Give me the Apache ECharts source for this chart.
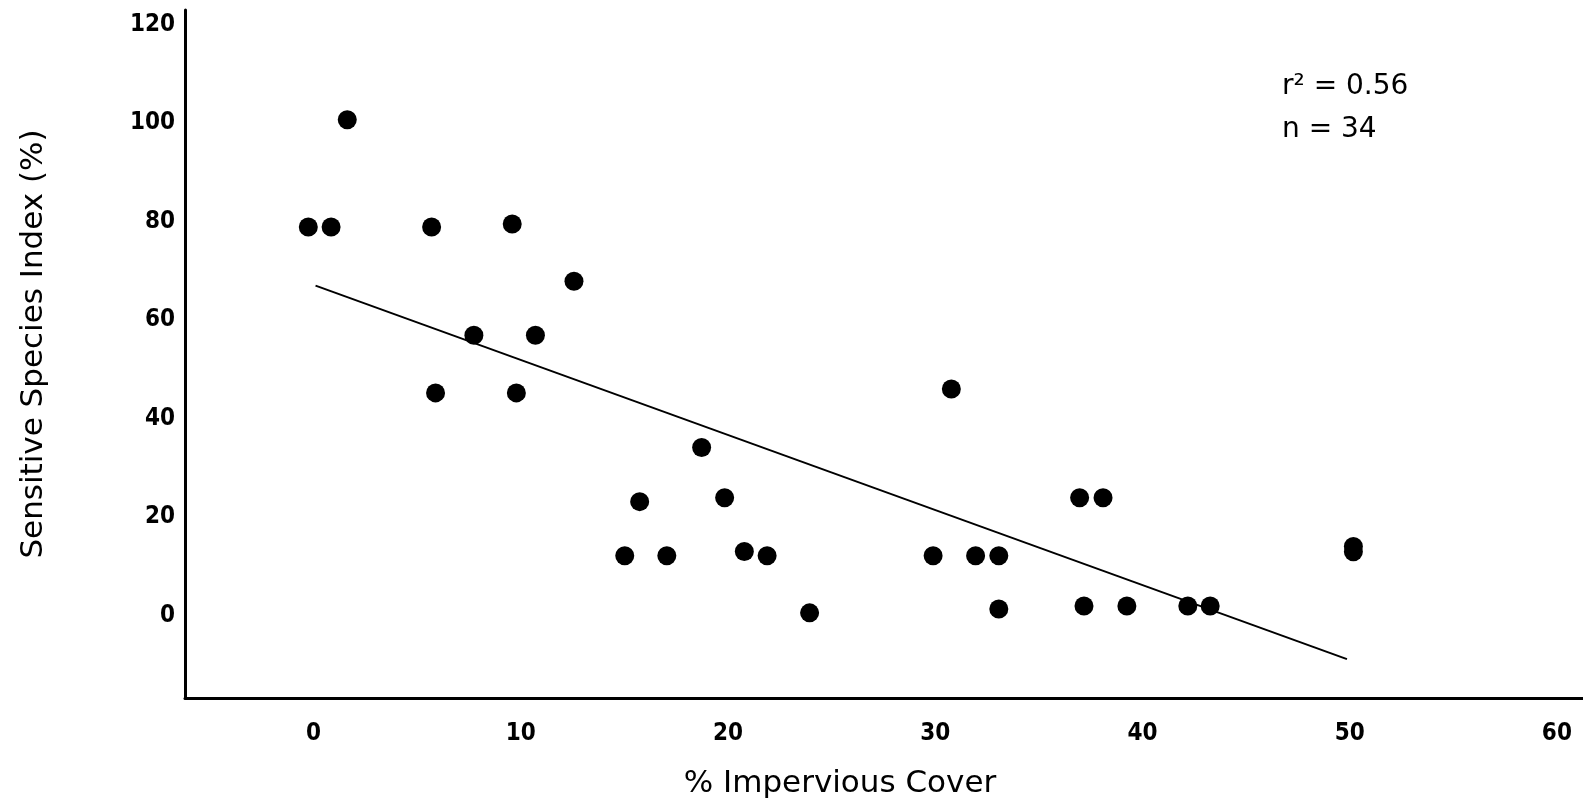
<!DOCTYPE html>
<html>
<head>
<meta charset="utf-8">
<title>Sensitive Species Index vs Impervious Cover</title>
<script src="https://cdn.jsdelivr.net/npm/echarts@6/dist/echarts.min.js"></script>
<style>
    html, body { margin: 0; padding: 0; background: #fff; }
    #scatterChart { width: 1583px; height: 806px; }
</style>
</head>
<body>
<div id="scatterChart"></div>
<script>
// points
var coverX = [-0.25, 0.85, 1.63, 5.70, 5.89, 7.74, 9.59, 9.79, 10.71, 12.57,
    15.02, 15.74, 17.05, 18.73, 19.84, 20.79, 21.89, 23.94, 29.90, 30.78,
    31.95, 33.07, 33.07, 36.97, 38.10, 37.18, 39.25, 42.19, 43.27, 50.18, 50.18];
var indexY = [78.9, 78.9, 100.7, 78.9, 45.2, 56.9, 79.5, 45.2, 56.9, 67.9,
    12.1, 23.1, 12.1, 34.1, 23.9, 12.95, 12.1, 0.5, 12.1, 46.0,
    12.1, 12.1, 1.3, 23.9, 23.9, 1.9, 1.9, 1.9, 1.9, 12.9, 14.0];

// fitted line end points
var fitX = [0.1, 49.87];
var fitY = [67.0, -8.9];

var xTicks = [0, 10, 20, 30, 40, 50, 60];
var yTicks = [0, 20, 40, 60, 80, 100, 120];

var statLines = ['r\u00b2 = 0.56', 'n = 34'];

function loadChart() {
    var points = [];
    coverX.forEach(function (x, i) {
        points.push([x, indexY[i]]);
    });
    var fit = [];
    fitX.forEach(function (x, i) {
        fit.push([x, fitY[i]]);
    });

    var tickFont = {
        color: '#000',
        fontSize: 24,
        fontWeight: 'bold',
        fontFamily: "'DejaVu Sans Condensed', 'DejaVu Sans', sans-serif"
    };

    echarts.init(document.querySelector("#scatterChart")).setOption({
        animation: false,
        backgroundColor: '#fff',
        grid: {
            left: 185,
            right: 0,
            top: 10,
            bottom: 108
        },
        xAxis: {
            type: 'value',
            min: -6.2,
            max: 61.26,
            name: '% Impervious Cover',
            nameLocation: 'middle',
            nameGap: 70,
            nameTextStyle: {
                color: '#000',
                fontSize: 31,
                fontFamily: "'DejaVu Sans', sans-serif",
                padding: [0, 88, 0, 0]
            },
            axisLine: { onZero: false, lineStyle: { color: '#000', width: 3 } },
            axisTick: { show: false },
            splitLine: { show: false },
            axisLabel: Object.assign({ customValues: xTicks, margin: 24 }, tickFont)
        },
        yAxis: {
            type: 'value',
            min: -16.8,
            max: 123,
            name: 'Sensitive Species Index (%)',
            nameLocation: 'middle',
            nameGap: 136,
            nameTextStyle: {
                color: '#000',
                fontSize: 31,
                fontFamily: "'DejaVu Sans', sans-serif",
                padding: [0, 0, 0, 20]
            },
            axisLine: { onZero: false, lineStyle: { color: '#000', width: 3 } },
            axisTick: { show: false },
            splitLine: { show: false },
            axisLabel: Object.assign({ customValues: yTicks, margin: 10 }, tickFont)
        },
        graphic: [{
            type: 'text',
            left: 1282,
            top: 65,
            style: {
                text: statLines.join('\n'),
                fill: '#000',
                font: "28px 'DejaVu Sans', sans-serif",
                lineHeight: 43
            }
        }],
        series: [{
            name: 'Fit',
            type: 'line',
            data: fit,
            symbol: 'none',
            z: 1,
            lineStyle: { color: '#000', width: 2 }
        },
        {
            name: 'Sites',
            type: 'scatter',
            data: points,
            symbol: 'circle',
            symbolSize: 19,
            z: 2,
            itemStyle: { color: '#000', opacity: 1 }
        }
        ]
    });
}

document.addEventListener("DOMContentLoaded", () => {
    loadChart();
});
</script>
</body>
</html>
